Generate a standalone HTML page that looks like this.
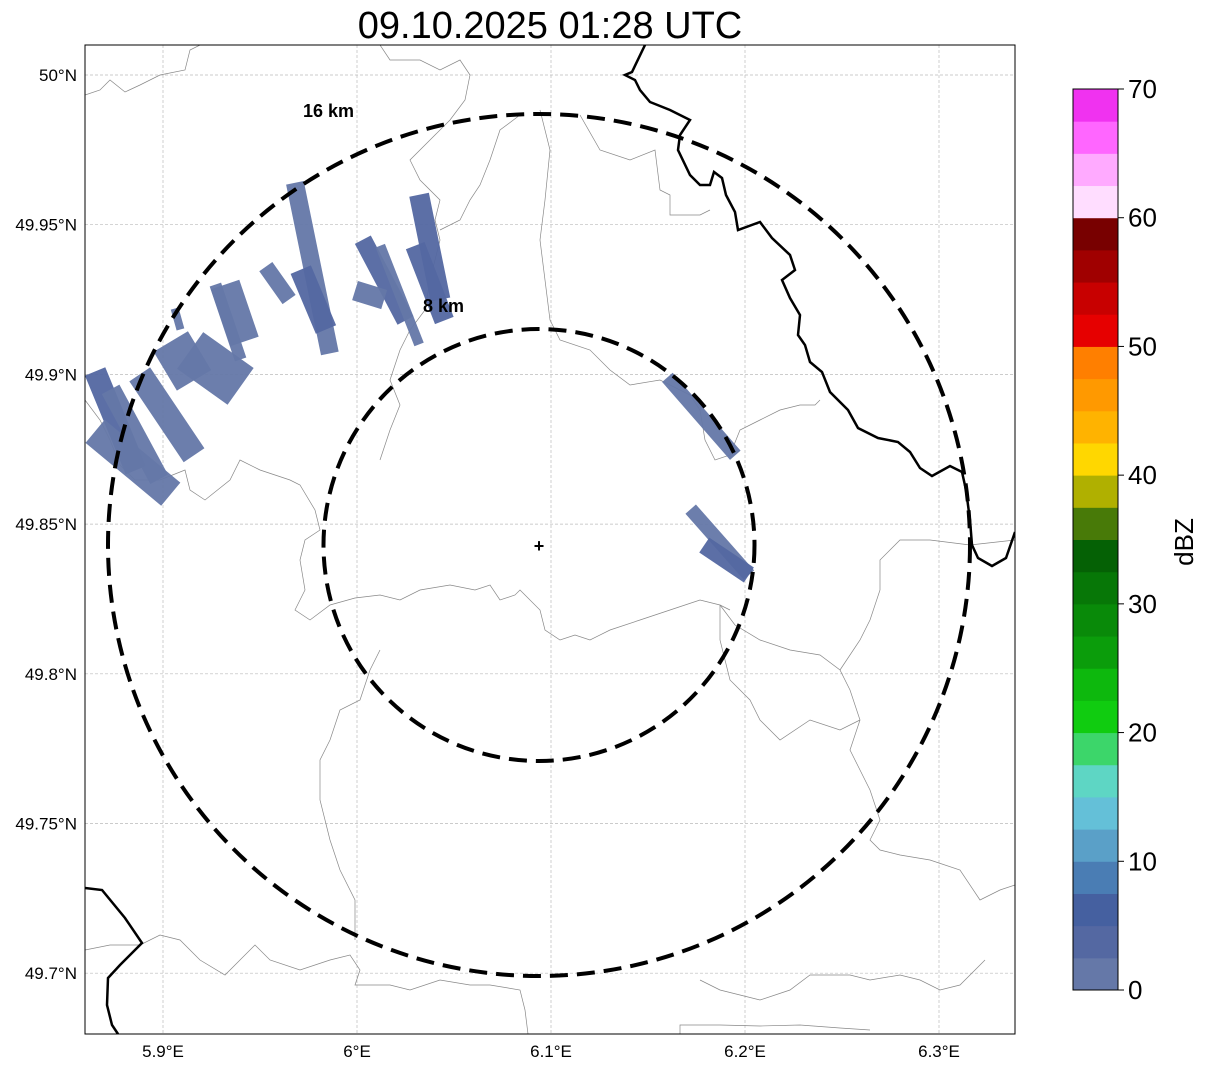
<!DOCTYPE html>
<html><head><meta charset="utf-8"><style>
body{margin:0;background:#fff;font-family:"Liberation Sans","DejaVu Sans",sans-serif;}
svg{display:block}
</style></head><body>
<svg id="chart" width="1207" height="1069" viewBox="0 0 1207 1069" xmlns="http://www.w3.org/2000/svg" font-family="Liberation Sans, DejaVu Sans, sans-serif">
<text x="550" y="38" font-size="38" text-anchor="middle">09.10.2025 01:28 UTC</text>
<defs><clipPath id="mapclip"><rect x="85" y="45" width="930" height="989"/></clipPath></defs>
<g id="grid"></g>
<g clip-path="url(#mapclip)">
<g fill="none" stroke="#888" stroke-width="0.7">
<path d="M85,95 L100,90 L110,80 L125,92 L140,85 L160,75 L185,70 L190,50 L200,45"/>
<path d="M85,400 L100,420 L110,440 L120,465 L135,480 L160,480 L185,470 L190,490 L205,500 L230,480 L240,460 L260,470 L290,480 L300,485 L315,510 L320,530 L305,540 L300,560 L305,590 L295,610 L310,620 L330,605 L355,598 L380,595 L400,600 L420,590 L450,585 L475,590 L490,585 L500,600 L515,595 L520,590 L540,610 L545,630 L560,640 L575,635 L590,640 L610,630 L640,620 L670,610 L700,600 L720,605 L730,610"/>
<path d="M380,45 L390,60 L420,60 L440,70 L460,60 L470,75 L465,100 L450,120 L430,140 L410,160 L420,180 L440,200 L435,220 L440,240 L430,280 L425,310 L410,330 L400,350 L390,380 L400,405 L390,430 L380,460"/>
<path d="M540,110 L550,150 L545,200 L540,240 L545,280 L550,320 L560,340 L590,350 L610,370 L630,385 L660,380 L690,395 L700,410 L705,440 L715,460 L730,455 L740,430 L760,420 L780,410 L800,405 L815,405 L820,400"/>
<path d="M520,115 L500,130 L490,160 L480,185 L470,200 L460,220 L440,230"/>
<path d="M580,115 L600,150 L630,160 L655,150 L660,190 L670,195 L670,215 L700,215 L710,210"/>
<path d="M720,605 L735,625 L760,640 L790,650 L820,655 L840,670 L850,690 L860,720 L850,750 L860,770 L870,790 L880,820 L870,840 L880,850 L900,855 L930,860 L960,870 L980,900 L1000,890 L1015,885"/>
<path d="M1015,540 L970,545 L930,540 L900,540 L880,560 L880,590 L870,620 L860,640 L840,670"/>
<path d="M720,605 L720,640 L730,680 L750,700 L760,720 L780,740 L810,720 L840,730 L860,720"/>
<path d="M85,950 L110,945 L140,945 L160,935 L180,940 L200,960 L225,975 L240,960 L255,945 L270,960 L300,970 L330,960 L350,955 L360,970 L355,985 L390,985 L410,990 L440,980 L470,985 L490,985 L520,990 L525,1010 L528,1034"/>
<path d="M355,940 L355,900 L340,870 L330,840 L320,800 L320,760 L330,740 L340,710 L360,700 L370,670 L380,650"/>
<path d="M680,1034 L680,1025 L720,1025 L760,1026 L800,1025 L840,1028 L870,1030"/>
<path d="M700,980 L720,990 L760,1000 L790,990 L810,975 L850,975 L870,980 L900,975 L920,980 L940,990 L960,985 L985,960"/>
</g>
<g fill="none" stroke="#000" stroke-width="2.5">
<path d="M645,45 L632,72 L625,75 L635,80 L640,90 L650,102 L670,110 L690,120 L680,135 L678,150 L690,175 L700,185 L710,185 L714,172 L722,178 L726,195 L735,212 L738,230 L760,222 L772,238 L790,255 L795,270 L782,280 L790,298 L800,315 L798,335 L805,345 L810,362 L822,372 L830,392 L848,410 L858,428 L878,438 L898,442 L910,452 L920,468 L932,476 L950,466 L962,472 L966,490 L970,520 L972,545 L978,558 L992,566 L1006,558 L1015,532"/>
<path d="M85,888 L102,890 L125,918 L142,943 L120,965 L108,978 L107,1005 L112,1025 L118,1034"/>
</g>
<g id="echoes"></g>
<g fill="none" stroke="#000" stroke-width="4" stroke-dasharray="18,9">
<ellipse cx="539" cy="545" rx="215.5" ry="216"/>
<ellipse cx="539" cy="545" rx="431" ry="431"/>
</g>
<text x="303" y="117" font-size="18" font-weight="bold">16 km</text>
<text x="423" y="312" font-size="18" font-weight="bold">8 km</text>
<text x="539" y="552" font-size="18" font-weight="bold" text-anchor="middle">+</text>
</g>
<rect x="85" y="45" width="930" height="989" fill="none" stroke="#000" stroke-width="1"/>
<g id="axes" font-size="17"></g>
<g id="cbar"></g>
<text transform="translate(1193,542) rotate(-90)" font-size="26" text-anchor="middle">dBZ</text>
</svg>
<script>
const NS='http://www.w3.org/2000/svg';
const lonTicks=[5.9,6.0,6.1,6.2,6.3];
const lonTickLabels=['5.9°E','6°E','6.1°E','6.2°E','6.3°E'];
const latTicks=[50.0,49.95,49.9,49.85,49.8,49.75,49.7];
const latTickLabels=['50°N','49.95°N','49.9°N','49.85°N','49.8°N','49.75°N','49.7°N'];
// echo segments: start/end lon, lat and reflectivity
const echoLon1=[5.968,5.953,5.971,6.003,5.999,6.012,6.032,6.030,5.906,5.927,5.932,5.904,5.914,5.888,5.865,5.865,5.873,6.160,6.172,6.179];
const echoLat1=[49.964,49.936,49.935,49.945,49.928,49.943,49.960,49.943,49.922,49.930,49.930,49.911,49.908,49.900,49.901,49.881,49.895,49.899,49.855,49.843];
const echoLon2=[5.986,5.965,5.984,6.025,6.014,6.032,6.043,6.045,5.909,5.940,5.942,5.916,5.940,5.916,5.886,5.904,5.898,6.195,6.202,6.202];
const echoLat2=[49.907,49.925,49.915,49.918,49.925,49.910,49.925,49.918,49.915,49.905,49.911,49.898,49.896,49.873,49.868,49.860,49.865,49.873,49.833,49.833];
const echoDbz=[2,2,3,3,2,2,4,3,2,2,2,2,2,2,3,2,2,2,2,3];
const echoWidthPx=[18,16,22,18,20,10,20,20,8,12,30,40,45,25,22,30,20,14,14,18];
const cbLevels=[0,2.5,5,7.5,10,12.5,15,17.5,20,22.5,25,27.5,30,32.5,35,37.5,40,42.5,45,47.5,50,52.5,55,57.5,60,62.5,65,67.5];
const cbColors=['#6578a8','#5468a2','#4560a0','#4a7db4','#5aa0c8','#64c0d8','#5ed6c4','#3cd66a','#10cc10','#0db80d','#0b9d0b','#098a09','#077707','#056105','#487a08','#b0b000','#ffd700','#ffb300','#ff9900','#ff7f00','#e60000','#c80000','#a00000','#780000','#ffddff','#ffaaff','#ff66ff','#f032f0'];
const cbTicks=[0,10,20,30,40,50,60,70];

const X=lon=>163+(lon-5.9)*1940;
const Y=lat=>75+(50-lat)*2994;
const CB=v=>990-(v/70)*901;
function mk(tag,attrs,parent){const e=document.createElementNS(NS,tag);for(const k in attrs)e.setAttribute(k,attrs[k]);parent.appendChild(e);return e;}
function color(d){let c=cbColors[0];cbLevels.forEach((l,i)=>{if(d>=l)c=cbColors[i];});return c;}

const grid=document.getElementById('grid'),axes=document.getElementById('axes');
lonTicks.forEach((v,i)=>{
 const l=mk('line',{x1:X(v),x2:X(v),y1:45,y2:1034,stroke:'#bbb','stroke-width':0.7,'stroke-dasharray':'3,2'},grid);
 
 
 const t=mk('text',{x:X(v),y:1057,'text-anchor':'middle'},axes);t.textContent=lonTickLabels[i];
 
 
});
latTicks.forEach((v,i)=>{
 const l=mk('line',{x1:85,x2:1015,y1:Y(v),y2:Y(v),stroke:'#bbb','stroke-width':0.7,'stroke-dasharray':'3,2'},grid);
 
 
 const t=mk('text',{x:77,y:Y(v)+6,'text-anchor':'end'},axes);t.textContent=latTickLabels[i];
 
 
});
const eg=document.getElementById('echoes');
echoLon1.forEach((v,i)=>{
 const x1=X(v),y1=Y(echoLat1[i]),x2=X(echoLon2[i]),y2=Y(echoLat2[i]);
 const l=mk('line',{x1:x1,y1:y1,x2:x2,y2:y2,stroke:color(echoDbz[i]),'stroke-width':echoWidthPx[i],'stroke-linecap':'butt',opacity:0.95},eg);
 
 
});
const cb=document.getElementById('cbar');
cbLevels.forEach((v,i)=>{
 const top=CB(v+2.5),bot=CB(v);
 const r=mk('rect',{x:1073,y:top,width:45,height:bot-top+0.5,fill:cbColors[i]},cb);
 
 
});
const fr=mk('rect',{x:1073,y:89,width:45,height:901,fill:'none',stroke:'#000','stroke-width':1},cb);


cbTicks.forEach(v=>{
 const l=mk('line',{x1:1118,x2:1124,y1:CB(v),y2:CB(v),stroke:'#000'},cb);
 
 
 const t=mk('text',{x:1128,y:CB(v)+9,'font-size':26},cb);t.textContent=v;
 
 
});
</script>
</body></html>
